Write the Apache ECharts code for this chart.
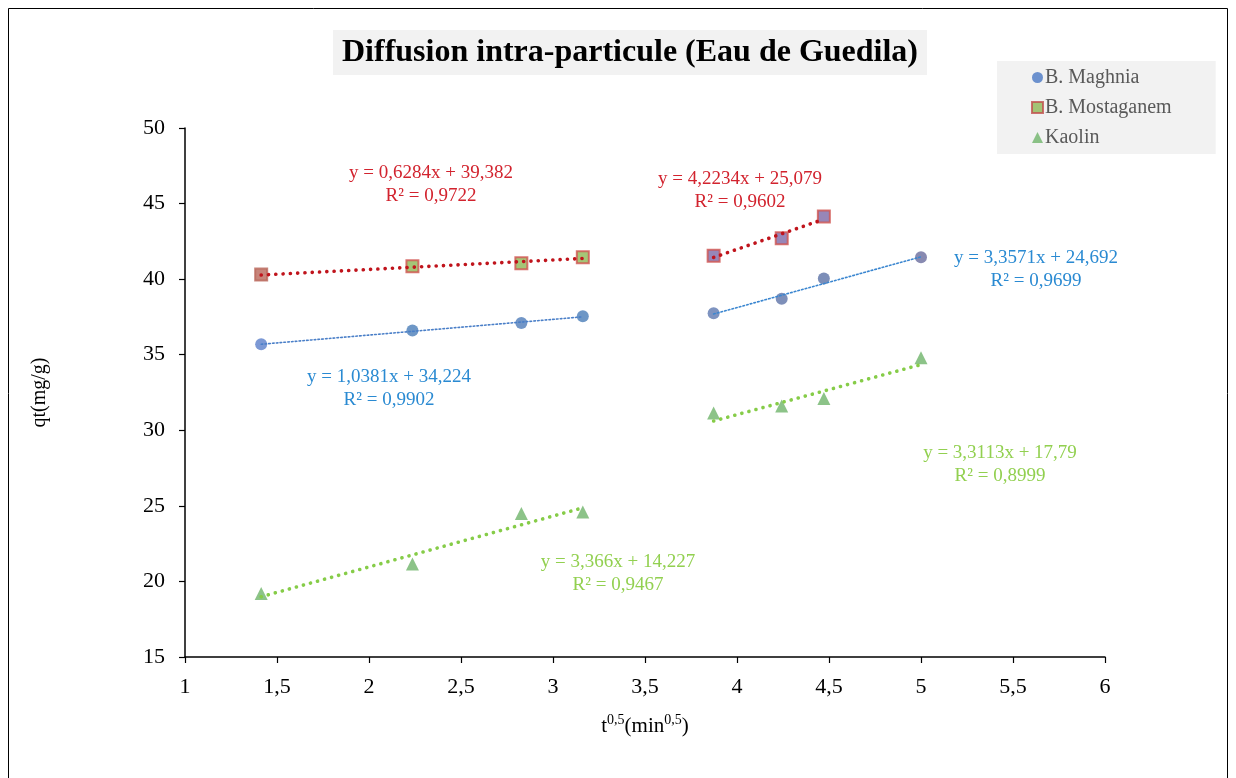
<!DOCTYPE html>
<html>
<head>
<meta charset="utf-8">
<title>Diffusion intra-particule (Eau de Guedila)</title>
<script src="https://cdn.jsdelivr.net/npm/echarts@6/dist/echarts.min.js"></script>
<style>
  html, body { margin: 0; padding: 0; background: #ffffff; }
  #chart { width: 1236px; height: 778px; }
</style>
</head>
<body>
<div id="chart"></div>
<script>
// Square root of contact time, t^0,5 (min^0,5)
const sqrtTime = [1.414, 2.236, 2.828, 3.162, 3.873, 4.243, 4.472, 5.0];

// Adsorbed quantity qt (mg/g)
const maghnia = [35.7, 36.6, 37.1, 37.55, 37.75, 38.7, 40.05, 41.45];
const mostaganem = [40.3, 40.85, 41.05, 41.45, 41.55, 42.7, 44.15];
const kaolin = [19.2, 21.15, 24.5, 24.6, 31.15, 31.6, 32.1, 34.8];

const seriesNames = ['B. Maghnia', 'B. Mostaganem', 'Kaolin'];

// Linear fits per stage: [slope, intercept, xStart, xEnd]
const fitMaghnia1 = [1.0381, 34.224, 1.414, 3.162];
const fitMaghnia2 = [3.3571, 24.692, 3.873, 5.0];
const fitMosta1 = [0.6284, 39.382, 1.414, 3.162];
const fitMosta2 = [4.2234, 25.079, 3.873, 4.472];
const fitKaolin1 = [3.366, 14.227, 1.414, 3.162];
const fitKaolin2 = [3.3113, 17.79, 3.873, 5.0];

// Equation labels as written on the chart
const eqMaghnia1 = ['y = 1,0381x + 34,224', 'R² = 0,9902'];
const eqMaghnia2 = ['y = 3,3571x + 24,692', 'R² = 0,9699'];
const eqMosta1 = ['y = 0,6284x + 39,382', 'R² = 0,9722'];
const eqMosta2 = ['y = 4,2234x + 25,079', 'R² = 0,9602'];
const eqKaolin1 = ['y = 3,366x + 14,227', 'R² = 0,9467'];
const eqKaolin2 = ['y = 3,3113x + 17,79', 'R² = 0,8999'];

const SERIF = '"Liberation Serif", "DejaVu Serif", serif';
const RED = '#d2232e';
const BLUE = '#2a8ad2';
const GREEN = '#92d050';

function pairs(xs, ys) {
  return ys.map((y, i) => [xs[i], y]);
}

function fitLine(fit) {
  const [m, b, x0, x1] = fit;
  return [[x0, m * x0 + b], [x1, m * x1 + b]];
}

function trend(fit, color, width, dash) {
  return {
    type: 'line',
    data: fitLine(fit),
    symbol: 'none',
    silent: true,
    z: 5,
    lineStyle: { color: color, width: width, type: dash, cap: 'round' },
    tooltip: { show: false }
  };
}

// Per-point fill colours of the markers
const mostaFill = ['#b9675a', '#8fb755', '#8fb755', '#8fb755', '#7d68a6', '#7d68a6', '#7d68a6'];
const maghniaFill = ['#5b7fcb', '#4a7db8', '#4f7cb9', '#4a7db8', '#5e78b0', '#5e73a8', '#5b72a6', '#6a6d9d'];

const chart = echarts.init(document.getElementById('chart'), null, { renderer: 'canvas' });

function eqText(lines, cx, cy, color) {
  return {
    type: 'text',
    x: cx,
    y: cy,
    style: {
      text: lines.join('\n'),
      font: '19px ' + SERIF,
      fill: color,
      align: 'center',
      verticalAlign: 'middle',
      lineHeight: 23
    },
    z: 10
  };
}

const option = {
  animation: false,
  backgroundColor: '#ffffff',
  title: {
    text: 'Diffusion intra-particule (Eau de Guedila)',
    left: 333,
    top: 30,
    backgroundColor: '#f2f2f2',
    padding: [6, 9, 6, 9],
    textStyle: {
      fontFamily: SERIF,
      fontWeight: 'bold',
      fontSize: 32,
      lineHeight: 33,
      color: '#000000'
    }
  },
  legend: {
    orient: 'vertical',
    left: 997,
    top: 61,
    padding: [6, 44, 6, 34],
    backgroundColor: '#f2f2f2',
    itemGap: 9,
    itemWidth: 11,
    itemHeight: 11,
    textStyle: { fontFamily: SERIF, fontSize: 20, lineHeight: 21, color: '#595959', padding: [0, 0, 0, -3] },
    data: [
      { name: seriesNames[0], icon: 'circle', itemStyle: { color: '#4a78c4', borderWidth: 0 } },
      { name: seriesNames[1], icon: 'rect', itemStyle: { color: '#8fb755', borderColor: '#c0504d', borderWidth: 2 } },
      { name: seriesNames[2], icon: 'triangle', itemStyle: { color: '#6fb46a', borderWidth: 0 } }
    ]
  },
  grid: { left: 185, right: 131, top: 128, bottom: 121 },
  xAxis: {
    type: 'value',
    min: 1,
    max: 6,
    interval: 0.5,
    name: '{b|t}{s|0,5}{b|(min}{s|0,5}{b|)}',
    nameLocation: 'middle',
    nameGap: 56,
    nameTextStyle: {
      rich: {
        b: { fontFamily: SERIF, fontSize: 21, color: '#000000' },
        s: { fontFamily: SERIF, fontSize: 14, color: '#000000', padding: [0, 0, 12, 0] }
      }
    },
    axisLine: { show: true, onZero: false, lineStyle: { color: '#000000', width: 1.5 } },
    axisTick: { show: true, length: 6, lineStyle: { color: '#000000', width: 1.2 } },
    axisLabel: {
      fontFamily: SERIF, fontSize: 22, color: '#000000', margin: 19,
      formatter: v => String(v).replace('.', ',')
    },
    splitLine: { show: false }
  },
  yAxis: {
    type: 'value',
    min: 15,
    max: 50,
    interval: 5,
    name: 'qt(mg/g)',
    nameLocation: 'middle',
    nameRotate: 90,
    nameGap: 135,
    nameTextStyle: { fontFamily: SERIF, fontSize: 20, color: '#000000' },
    axisLine: { show: true, onZero: false, lineStyle: { color: '#000000', width: 1.5 } },
    axisTick: { show: true, length: 6, lineStyle: { color: '#000000', width: 1.2 } },
    axisLabel: { fontFamily: SERIF, fontSize: 22, color: '#000000', margin: 20 },
    splitLine: { show: false }
  },
  series: [
    {
      name: seriesNames[0],
      type: 'scatter',
      symbol: 'circle',
      symbolSize: 12,
      z: 3,
      data: pairs(sqrtTime, maghnia).map((p, i) => ({ value: p, itemStyle: { color: maghniaFill[i] } })),
      itemStyle: { color: '#4a78c4' }
    },
    {
      name: seriesNames[1],
      type: 'scatter',
      symbol: 'rect',
      symbolSize: 12,
      z: 3,
      data: pairs(sqrtTime, mostaganem).map((p, i) => ({
        value: p,
        itemStyle: { color: mostaFill[i], borderColor: i === 0 ? '#b9675a' : '#d0524f', borderWidth: 2 }
      })),
      itemStyle: { color: '#8fb755', borderColor: '#c0504d', borderWidth: 2 }
    },
    {
      name: seriesNames[2],
      type: 'scatter',
      symbol: 'triangle',
      symbolSize: 13,
      z: 3,
      data: pairs(sqrtTime, kaolin),
      itemStyle: { color: '#6fb46a' }
    },
    trend(fitMaghnia1, '#4a7fc8', 1.6, [1.6, 2.2]),
    trend(fitMaghnia2, '#3a86d0', 1.6, [1.6, 2.2]),
    trend(fitMosta1, '#c0141c', 3.6, [0.1, 7.2]),
    trend(fitMosta2, '#c0141c', 3.6, [0.1, 7.2]),
    trend(fitKaolin1, '#86cc48', 3.6, [0.1, 7.2]),
    trend(fitKaolin2, '#86cc48', 3.6, [0.1, 7.2])
  ],
  graphic: [
    {
      type: 'rect',
      shape: { x: 8.5, y: 8.5, width: 1219, height: 770 },
      style: { fill: 'none', stroke: '#000000', lineWidth: 1 },
      silent: true
    },
    eqText(eqMosta1, 431, 185, RED),
    eqText(eqMosta2, 740, 191, RED),
    eqText(eqMaghnia2, 1036, 270, BLUE),
    eqText(eqMaghnia1, 389, 389, BLUE),
    eqText(eqKaolin2, 1000, 465, GREEN),
    eqText(eqKaolin1, 618, 574, GREEN)
  ]
};

chart.setOption(option);
</script>
</body>
</html>
